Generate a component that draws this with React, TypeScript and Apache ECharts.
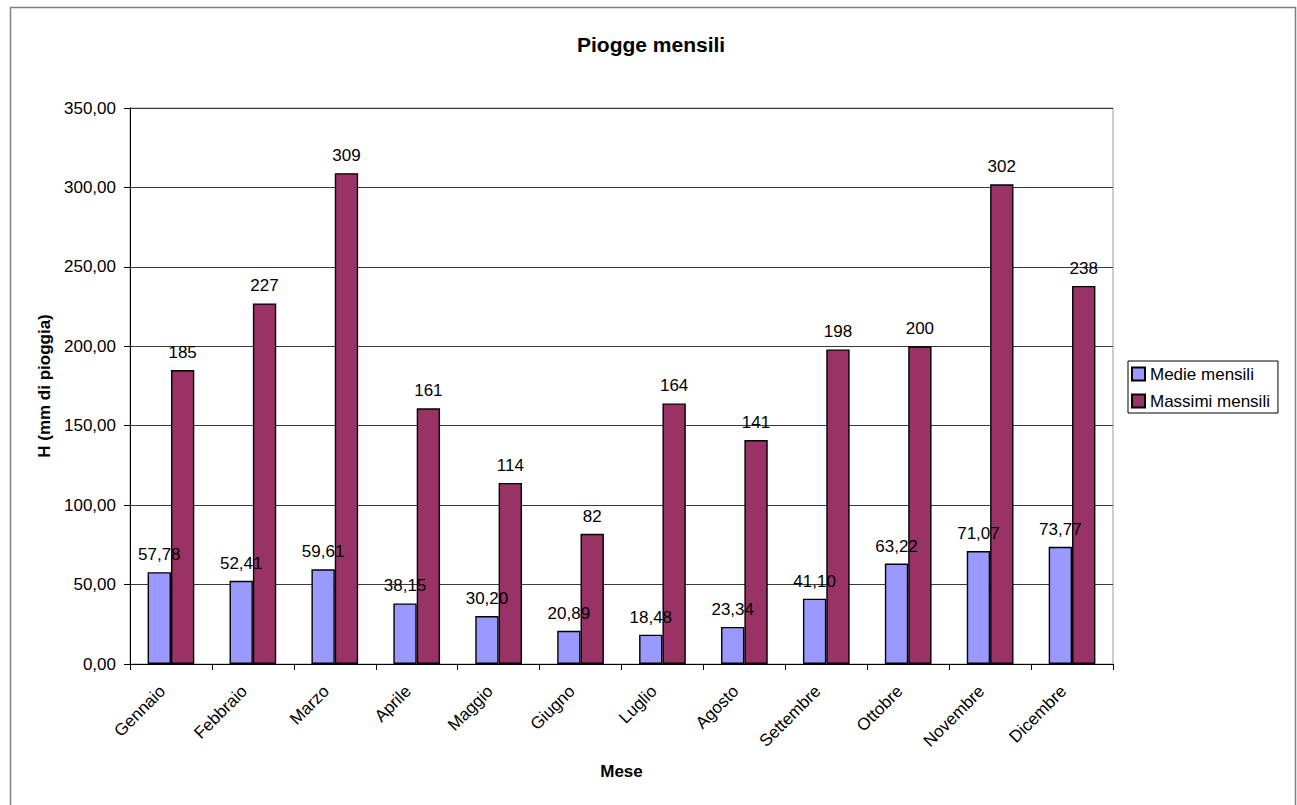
import React, { useEffect, useRef } from "react";
import * as echarts from "echarts";

// Monthly rainfall: mean and maximum per month (mm)
const months = [
  "Gennaio", "Febbraio", "Marzo", "Aprile", "Maggio", "Giugno",
  "Luglio", "Agosto", "Settembre", "Ottobre", "Novembre", "Dicembre",
];
const medieMensili = [57.78, 52.41, 59.61, 38.15, 30.2, 20.89, 18.48, 23.34, 41.1, 63.22, 71.07, 73.77];
const massimiMensili = [185, 227, 309, 161, 114, 82, 164, 141, 198, 200, 302, 238];

const seriesNames = ["Medie mensili", "Massimi mensili"];
const chartTitle = "Piogge mensili";
const yAxisName = "H (mm di pioggia)";
const xAxisName = "Mese";

const FONT = "'Liberation Sans', Arial, sans-serif";
const fmt2 = (v: number) => v.toFixed(2).replace(".", ",");

export default function App() {
  const ref = useRef<HTMLDivElement>(null);

  useEffect(() => {
    if (!ref.current) return;
    const chart = echarts.init(ref.current, undefined, { renderer: "svg" });
    chart.setOption({
      animation: false,
      backgroundColor: "#ffffff",
      textStyle: { fontFamily: FONT, color: "#000" },
      title: {
        text: chartTitle,
        left: 577,
        top: 34,
        padding: 0,
        textStyle: { fontFamily: FONT, fontSize: 21, fontWeight: "bold", color: "#000" },
      },
      graphic: [
        {
          type: "rect",
          left: 8,
          top: 5,
          shape: { width: 1285, height: 820 },
          style: { fill: "none", stroke: "#808080", lineWidth: 1.5 },
          silent: true,
          z: -10,
        },
      ],
      legend: {
        orient: "vertical",
        left: 1128,
        top: 361,
        padding: [4, 8, 3, 3],
        itemGap: 9,
        itemWidth: 13,
        itemHeight: 13,
        icon: "rect",
        borderColor: "#000",
        borderWidth: 1,
        textStyle: { fontFamily: FONT, fontSize: 17, color: "#000", lineHeight: 18 },
        data: seriesNames,
      },
      grid: {
        left: 130,
        top: 108,
        right: 1297 - 1113,
        bottom: 805 - 664,
        show: true,
        borderColor: "#999",
        borderWidth: 1,
        backgroundColor: "#fff",
      },
      xAxis: {
        type: "category",
        data: months,
        name: xAxisName,
        nameLocation: "middle",
        nameGap: 99,
        nameTextStyle: { fontFamily: FONT, fontSize: 17, fontWeight: "bold", color: "#000" },
        axisLine: { lineStyle: { color: "#000", width: 1 } },
        axisTick: { show: true, length: 6, lineStyle: { color: "#000" } },
        axisLabel: {
          rotate: 45,
          margin: 16,
          padding: [0, 12, 0, 0],
          fontFamily: FONT,
          fontSize: 17,
          color: "#000",
          interval: 0,
        },
        splitLine: { show: false },
      },
      yAxis: {
        type: "value",
        min: 0,
        max: 350,
        interval: 50,
        name: yAxisName,
        nameLocation: "middle",
        nameRotate: 90,
        nameGap: 76,
        nameTextStyle: { fontFamily: FONT, fontSize: 17, fontWeight: "bold", color: "#000" },
        axisLine: { show: true, lineStyle: { color: "#000", width: 1 } },
        axisTick: { show: true, length: 6, lineStyle: { color: "#000" } },
        axisLabel: {
          margin: 14,
          fontFamily: FONT,
          fontSize: 17,
          color: "#000",
          formatter: (v: number) => fmt2(v),
        },
        splitLine: { show: true, lineStyle: { color: "#3a3a3a", width: 1 } },
      },
      series: [
        {
          name: seriesNames[0],
          type: "bar",
          data: medieMensili,
          barGap: "0%",
          barCategoryGap: "43%",
          itemStyle: { color: "#9999FF", borderColor: "#000", borderWidth: 1.4 },
          label: {
            show: true,
            position: "top",
            distance: 9,
            fontFamily: FONT,
            fontSize: 17,
            color: "#000",
            formatter: (p: any) => fmt2(p.value),
          },
          z: 2,
        },
        {
          name: seriesNames[1],
          type: "bar",
          data: massimiMensili,
          barGap: "0%",
          barCategoryGap: "43%",
          itemStyle: { color: "#993366", borderColor: "#000", borderWidth: 1.4 },
          label: {
            show: true,
            position: "top",
            distance: 9,
            fontFamily: FONT,
            fontSize: 17,
            color: "#000",
            formatter: (p: any) => String(p.value),
          },
          z: 2,
        },
      ],
    });
    return () => chart.dispose();
  }, []);

  return (
    <div
      ref={ref}
      style={{ position: "absolute", left: 0, top: 0, width: 1297, height: 805, background: "#fff" }}
    />
  );
}
